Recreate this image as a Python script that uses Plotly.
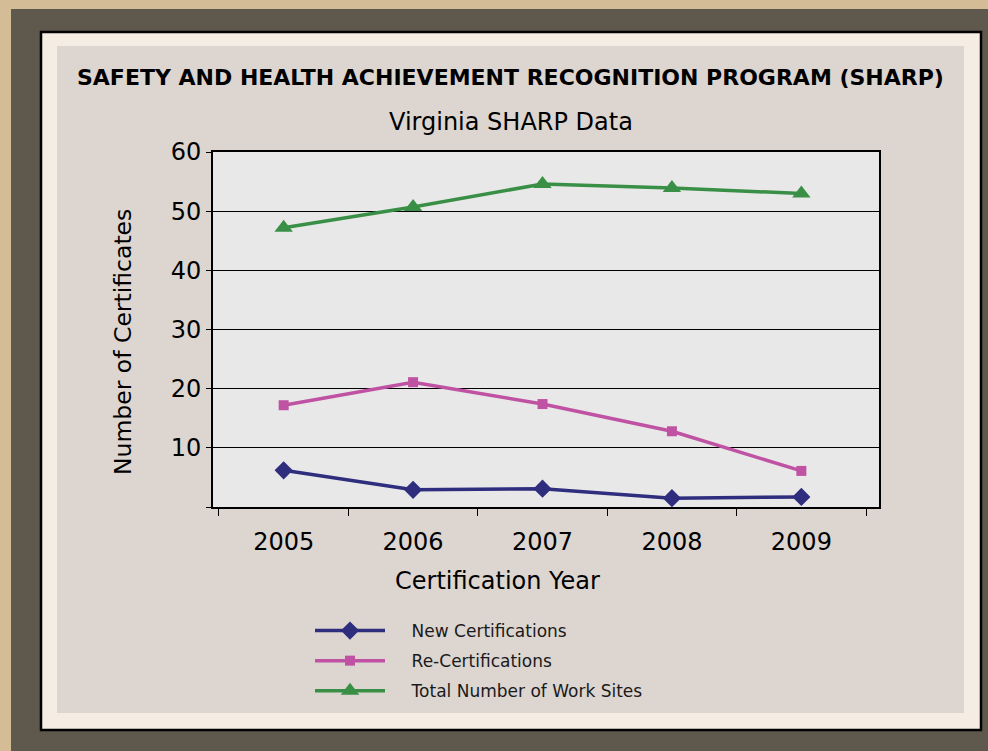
import plotly.graph_objects as go

W, H = 988, 751

years = ["2005", "2006", "2007", "2008", "2009"]
new_cert = [6.2, 2.9, 3.1, 1.5, 1.7]
re_cert = [17.2, 21.1, 17.4, 12.8, 6.1]
total_sites = [47.2, 50.7, 54.6, 53.9, 53.0]
y_ticks = [0, 10, 20, 30, 40, 50, 60]
y_tick_labels = ["", "10", "20", "30", "40", "50", "60"]
series_names = ["New Certifications", "Re-Certifications", "Total Number of Work Sites"]

FONT = "DejaVu Sans"
PAD = "\u00a0" * 4


def px(x):
    return x / W


def py(y):
    return 1 - y / H


fig = go.Figure()

fig.add_trace(go.Scatter(
    x=years, y=new_cert, name=PAD + series_names[0], mode="lines+markers",
    line=dict(color="#2E2D7E", width=3.5),
    marker=dict(symbol="diamond", size=14, color="#2E2D7E"),
    legendgroup="a"))
fig.add_trace(go.Scatter(
    x=years, y=re_cert, name=PAD + series_names[1], mode="lines+markers",
    line=dict(color="#C052A3", width=3.5),
    marker=dict(symbol="square", size=10, color="#C052A3"),
    legendgroup="b"))
fig.add_trace(go.Scatter(
    x=years, y=total_sites, name=PAD + series_names[2], mode="lines+markers",
    line=dict(color="#3A8F46", width=3.5),
    marker=dict(symbol="triangle-up", size=16, color="#3A8F46"),
    legendgroup="c"))

shapes = [
    dict(type="rect", xref="paper", yref="paper", x0=px(11), x1=1, y0=0, y1=py(9),
         fillcolor="#5F584D", line=dict(width=0), layer="below"),
    dict(type="rect", xref="paper", yref="paper", x0=px(41), x1=px(981), y0=py(730), y1=py(32),
         fillcolor="#F5EDE4", line=dict(color="black", width=2.5), layer="below"),
    dict(type="rect", xref="paper", yref="paper", x0=px(57), x1=px(964), y0=py(713), y1=py(46),
         fillcolor="#DCD5D0", line=dict(width=0), layer="below"),
    dict(type="rect", xref="paper", yref="paper", x0=px(213), x1=px(879), y0=py(507), y1=py(152),
         fillcolor="#E8E8E8", line=dict(width=0), layer="below"),
]

annotations = [
    dict(text="<b>SAFETY AND HEALTH ACHIEVEMENT RECOGNITION PROGRAM (SHARP)</b>",
         x=px(511), y=py(78), font=dict(family=FONT, size=22, color="black")),
    dict(text="Virginia SHARP Data", x=px(511), y=py(122),
         font=dict(family=FONT, size=24, color="black")),
    dict(text="Number of Certificates", x=px(123), y=py(342), textangle=-90,
         font=dict(family=FONT, size=23.5, color="black")),
    dict(text="Certification Year", x=px(497), y=py(581),
         font=dict(family=FONT, size=24, color="black")),
]
for a in annotations:
    a.update(xref="paper", yref="paper", showarrow=False, xanchor="center", yanchor="middle")

fig.update_layout(
    width=W, height=H,
    margin=dict(l=0, r=0, t=0, b=0, pad=0, autoexpand=False),
    paper_bgcolor="#D4BC96",
    plot_bgcolor="rgba(0,0,0,0)",
    font=dict(family=FONT, color="black"),
    shapes=shapes,
    annotations=annotations,
    showlegend=True,
    legend=dict(
        x=px(310), y=py(613), xanchor="left", yanchor="top",
        bgcolor="rgba(0,0,0,0)", font=dict(family=FONT, size=17, color="#1a1a1a"),
        itemwidth=70, traceorder="grouped", tracegroupgap=5,
    ),
    xaxis=dict(
        domain=[px(213), px(879)], type="category", range=[-0.546, 4.6],
        tickson="boundaries", ticks="outside", ticklen=7, tickcolor="black", tickwidth=1,
        showgrid=False, showline=True, mirror=True, linecolor="black", linewidth=2,
        tickfont=dict(family=FONT, size=24, color="black"), zeroline=False,
        ticklabelstandoff=12, automargin=False,
    ),
    yaxis=dict(
        domain=[py(507), py(152)], range=[0, 60],
        tickvals=y_ticks, ticktext=y_tick_labels,
        ticks="outside", ticklen=5, tickcolor="black", tickwidth=1,
        showgrid=True, gridcolor="black", gridwidth=1,
        showline=True, mirror=True, linecolor="black", linewidth=2, zeroline=False,
        tickfont=dict(family=FONT, size=24, color="black"), automargin=False,
    ),
)

fig.write_html(
    "out.html",
    config={"displayModeBar": False},
    post_script="document.body.style.margin='0';document.body.style.background='#D4BC96';",
)
